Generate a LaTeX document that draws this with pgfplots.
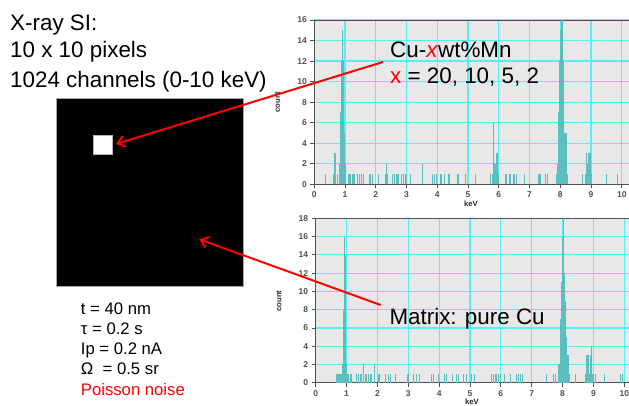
\documentclass[border=0pt]{standalone}
\usepackage{fontspec}
\setmainfont{Liberation Sans}
\usepackage{pgfplots}
\pgfplotsset{compat=1.18}
\usetikzlibrary{arrows.meta}
\definecolor{spec}{HTML}{5BBFBF}
\definecolor{gridc}{HTML}{55F0F0}
\definecolor{bgc}{HTML}{E8E8E8}
\definecolor{axc}{HTML}{505050}

\pgfplotsset{
  every axis grid/.style={draw=gridc, line width=1.2pt},
  specax/.style={
    scale only axis, anchor=south west,
    xmin=0, xmax=10.5, ymin=0, enlargelimits=false,
    xtick={0,...,10},
    tick pos=left, tick align=outside, major tick length=4pt,
    xmajorgrids=true, ymajorgrids=true,
    major grid style={draw=gridc, line width=1.2pt},
    axis background/.style={fill=bgc},
    axis line style={draw=axc, line width=0.8pt},
    tick style={draw=axc, line width=0.7pt},
    tick label style={font=\fontsize{8.5}{9}\selectfont\bfseries, text=axc},
    /pgf/number format/assume math mode=true,
  },
  bars/.style={ycomb, draw=spec, line width=0.8pt, mark=none},
}

\begin{document}
\begin{tikzpicture}[x=1pt,y=1pt]
\useasboundingbox (0,0) rectangle (629,405);
\clip (0,0) rectangle (629,405);

% Cu-xwt%Mn particle pixel
\begin{axis}[specax, at={(314.3pt,220.7pt)}, width=322.9pt, height=164.3pt,
  ymax=16, ytick={0,2,...,16}]
\addplot[bars] coordinates {
(0.37,1) (0.62,1) (0.65,3) (0.67,3) (0.70,3) (0.76,1) (0.80,2) (0.82,2) (0.84,2)
(0.86,7) (0.88,7) (0.89,12) (0.90,12) (0.91,15) (0.92,15) (0.93,12) (0.94,12) (0.95,12)
(0.96,5) (0.97,5) (0.98,5) (1.00,2)
(1.11,1) (1.14,1) (1.18,1) (1.24,1) (1.27,1) (1.32,1) (1.40,1) (1.46,1) (1.52,1) (1.59,1)
(1.78,1) (1.83,1) (1.89,1) (2.08,1) (2.32,1) (2.35,2) (2.39,1) (2.54,1) (2.60,1) (2.66,1)
(2.71,1) (2.75,1) (2.84,1) (2.90,1) (2.95,1) (3.00,1) (3.14,1) (3.53,2) (3.85,1) (3.89,1)
(3.96,1) (4.09,1) (4.14,1) (4.22,1) (4.36,1) (4.39,1) (4.65,1) (4.68,1) (4.92,1) (5.23,1)
(5.71,1) (5.80,1) (5.83,6) (5.86,2) (5.88,2) (5.90,2) (5.92,3) (5.94,3) (5.96,2) (5.99,1)
(6.22,1) (6.26,1) (6.34,1) (6.39,1) (6.47,1) (6.52,1) (6.56,1) (6.83,1) (7.28,1) (7.32,1)
(7.36,1) (7.53,1) (7.59,1)
(7.88,1) (7.90,2) (7.92,2) (7.94,7) (7.96,7) (7.98,12) (8.00,15) (8.02,15) (8.04,16)
(8.06,16) (8.08,12) (8.10,12) (8.12,5) (8.14,5) (8.16,5) (8.18,5) (8.20,5) (8.22,1)
(8.73,1) (8.83,1) (8.85,3) (8.87,2) (8.89,2) (8.91,3) (8.93,2) (8.95,3) (8.97,3) (8.99,1)
(9.02,1) (9.49,1) (9.85,1)
};
\end{axis}

% matrix pixel, pure Cu
\begin{axis}[specax, at={(315.7pt,22.3pt)}, width=324.0pt, height=164.4pt,
  ymax=18, ytick={0,2,...,18}]
\addplot[bars] coordinates {
(0.66,1) (0.69,1) (0.72,1) (0.75,1) (0.78,1) (0.81,1) (0.84,1) (0.86,2) (0.88,2)
(0.90,8) (0.92,12) (0.93,16) (0.94,16) (0.95,14) (0.96,14) (0.97,10) (0.98,2) (1.00,2)
(1.02,1) (1.05,1) (1.11,1) (1.17,1) (1.33,1) (1.38,1) (1.44,1) (1.49,1) (1.54,2) (1.60,1)
(1.65,1) (1.71,1) (1.76,1) (1.81,1) (1.90,2) (2.03,1) (2.08,1) (2.27,1) (2.35,1) (2.41,1)
(2.57,1) (2.97,1) (3.02,1) (3.16,1) (3.25,1) (3.36,1) (3.76,1) (3.81,1) (3.97,1) (4.16,1)
(4.22,1) (4.43,1) (4.57,1) (4.64,1) (4.78,1) (4.89,1) (5.05,1) (5.14,1) (5.70,1) (5.76,1)
(5.81,1) (5.86,1) (5.92,1) (5.97,1) (6.13,1) (6.30,1) (6.51,1) (6.57,1) (6.62,1) (6.70,1)
(7.48,1) (7.70,1) (7.78,1)
(7.88,2) (7.90,2) (7.92,7) (7.94,7) (7.96,11) (7.98,11) (8.00,16) (8.02,18) (8.04,12)
(8.06,12) (8.08,9) (8.10,9) (8.12,5) (8.14,5) (8.16,3) (8.18,3) (8.20,2) (8.22,1) (8.43,1)
(8.74,1) (8.76,3) (8.78,3) (8.80,3) (8.83,3) (8.86,1) (8.89,3) (8.92,4) (8.95,2) (8.98,1)
(9.00,1) (9.05,1) (9.34,1) (9.86,1) (9.95,1)
};
\end{axis}

% axis titles
\begin{scope}[every node/.style={font=\fontsize{7.7}{8}\selectfont\bfseries, text=black!85, inner sep=0pt}]
\node[rotate=90] at (277.5,303) {count};
\node[rotate=90] at (279,104) {count};
\node at (471,201) {keV};
\node at (472,3) {keV};
\end{scope}

% spectrum image
\fill[black, draw=gray!70, line width=0.5pt] (56,119) rectangle (243,307);
\fill[white, draw=gray!60, line width=0.5pt] (93.3,250.3) rectangle (112.3,269.3);

% text
\begin{scope}[every node/.style={anchor=base west, inner sep=0pt, font=\fontsize{22.4}{26}\selectfont}]
\node at (10,374.3) {X-ray SI:};
\node at (10,347.3) {10 x 10 pixels};
\node at (10,317.7) {1024 channels (0-10 keV)};
\node at (390,347.7) {Cu-\textcolor{red}{\textit{x}}wt\%Mn};
\node at (390,321) {\textcolor{red}{x} = 20, 10, 5, 2};
\node at (389.3,80.7) {Matrix: pure Cu};
\end{scope}
\begin{scope}[every node/.style={anchor=base west, inner sep=0pt, font=\fontsize{16.7}{20}\selectfont}]
\node at (80.7,91) {t = 40 nm};
\node at (80.7,71) {τ = 0.2 s};
\node at (80.7,50.3) {Ip = 0.2 nA};
\node at (80.7,31) {Ω\ \ = 0.5 sr};
\node[text=red] at (80.7,10) {Poisson noise};
\end{scope}

% arrows
\draw[red, line width=2pt, -{Straight Barb[length=7pt, width=11pt]}] (383,343) -- (116,261);
\draw[red, line width=2pt, -{Straight Barb[length=7pt, width=11pt]}] (380.7,100) -- (199.3,165.7);
\end{tikzpicture}
\end{document}
